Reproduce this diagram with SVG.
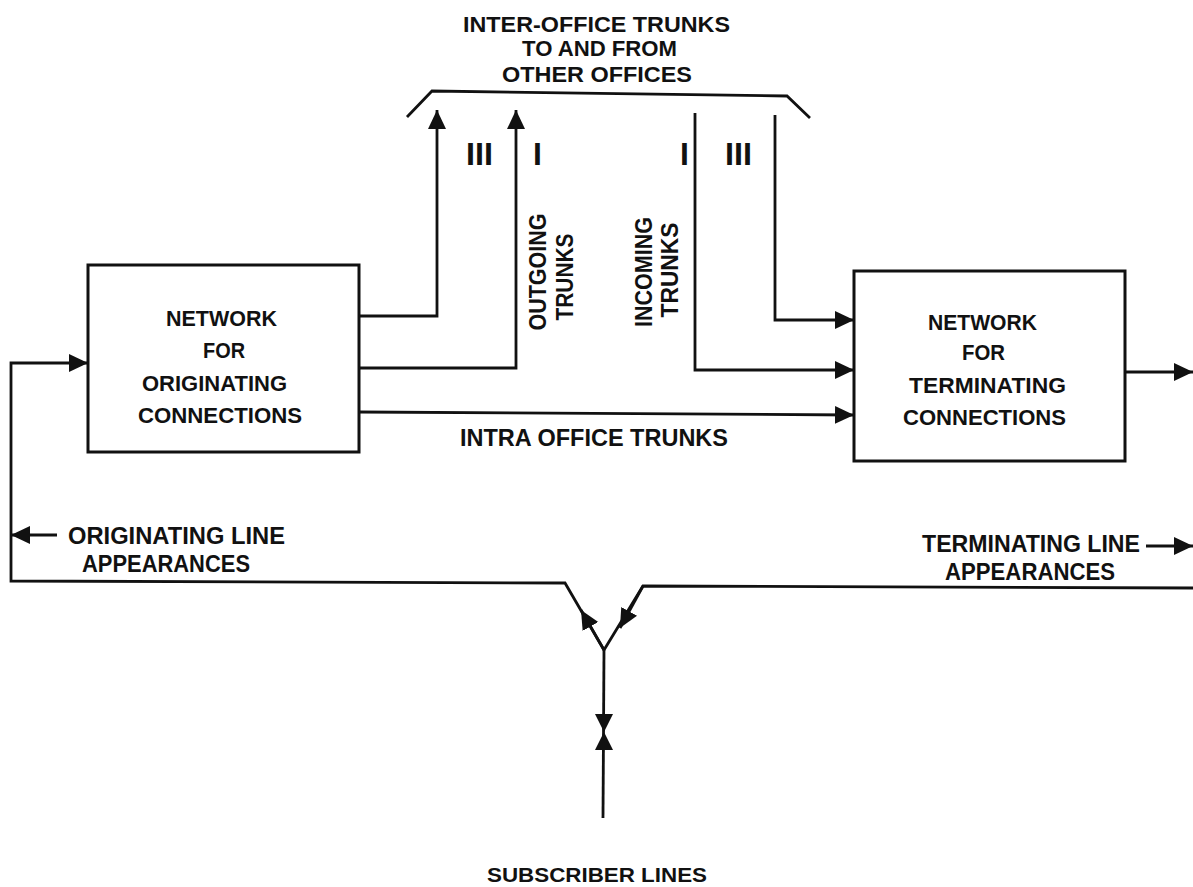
<svg xmlns="http://www.w3.org/2000/svg" width="1193" height="887" viewBox="0 0 1193 887">
<style>
.t{font-family:"Liberation Sans",Arial,sans-serif;font-weight:bold;font-size:23px;fill:#111}
.b{font-size:21.5px}
.s{font-size:21px}
.h{font-size:21.5px}
.tick{font-family:"Liberation Sans",Arial,sans-serif;font-weight:bold;font-size:32px;fill:#111}
.ln{fill:none;stroke:#111;stroke-width:2.8;stroke-linejoin:miter}
.box{fill:none;stroke:#111;stroke-width:3}
</style>
<defs>
<marker id="ah" markerUnits="userSpaceOnUse" markerWidth="20" markerHeight="20" refX="19" refY="10" orient="auto" viewBox="0 0 20 20">
<path d="M0,1 L19,10 L0,19 z" fill="#111"/>
</marker>
</defs>
<rect width="1193" height="887" fill="#fff"/>

<g id="title">
<text class="t h" x="463" y="32" textLength="267" lengthAdjust="spacingAndGlyphs">INTER-OFFICE TRUNKS</text>
<text class="t h" x="522" y="56" textLength="155" lengthAdjust="spacingAndGlyphs">TO AND FROM</text>
<text class="t h" x="502" y="82" textLength="190" lengthAdjust="spacingAndGlyphs">OTHER OFFICES</text>
</g>

<g id="orig">
<rect class="box" x="88" y="265" width="271" height="187"/>
<text class="t b" x="166" y="326" textLength="111" lengthAdjust="spacingAndGlyphs">NETWORK</text>
<text class="t b" x="203" y="358" textLength="42" lengthAdjust="spacingAndGlyphs">FOR</text>
<text class="t b" x="142" y="391" textLength="145" lengthAdjust="spacingAndGlyphs">ORIGINATING</text>
<text class="t b" x="138" y="423" textLength="164" lengthAdjust="spacingAndGlyphs">CONNECTIONS</text>
</g>

<g id="term">
<rect class="box" x="854" y="271" width="271" height="190"/>
<text class="t b" x="928" y="330" textLength="109" lengthAdjust="spacingAndGlyphs">NETWORK</text>
<text class="t b" x="962" y="360" textLength="43" lengthAdjust="spacingAndGlyphs">FOR</text>
<text class="t b" x="909" y="393" textLength="157" lengthAdjust="spacingAndGlyphs">TERMINATING</text>
<text class="t b" x="903" y="425" textLength="163" lengthAdjust="spacingAndGlyphs">CONNECTIONS</text>
</g>

<g id="labels">
<text class="t" transform="translate(546,272) rotate(-90)" text-anchor="middle" textLength="117" lengthAdjust="spacingAndGlyphs">OUTGOING</text>
<text class="t" transform="translate(573,277) rotate(-90)" text-anchor="middle" textLength="87" lengthAdjust="spacingAndGlyphs">TRUNKS</text>
<text class="t" transform="translate(652,272) rotate(-90)" text-anchor="middle" textLength="110" lengthAdjust="spacingAndGlyphs">INCOMING</text>
<text class="t" transform="translate(678,270) rotate(-90)" text-anchor="middle" textLength="95" lengthAdjust="spacingAndGlyphs">TRUNKS</text>
<text class="t" x="460" y="446" textLength="268" lengthAdjust="spacingAndGlyphs">INTRA OFFICE TRUNKS</text>
<text class="t" x="68" y="544" textLength="217" lengthAdjust="spacingAndGlyphs">ORIGINATING LINE</text>
<text class="t" x="82" y="572" textLength="168" lengthAdjust="spacingAndGlyphs">APPEARANCES</text>
<text class="t" x="922" y="552" textLength="218" lengthAdjust="spacingAndGlyphs">TERMINATING LINE</text>
<text class="t" x="945" y="580" textLength="170" lengthAdjust="spacingAndGlyphs">APPEARANCES</text>
<text class="t s" x="487" y="882" textLength="220" lengthAdjust="spacingAndGlyphs">SUBSCRIBER LINES</text>
<text class="tick" x="466" y="165" textLength="27" lengthAdjust="spacingAndGlyphs">III</text>
<text class="tick" x="533" y="165">I</text>
<text class="tick" x="680" y="165">I</text>
<text class="tick" x="725" y="165" textLength="27" lengthAdjust="spacingAndGlyphs">III</text>
</g>

<g id="connectors">
<polyline class="ln" points="407,117 432,91 787,96 810,118"/>
<polyline class="ln" points="359,316 437,316 437,110" marker-end="url(#ah)"/>
<polyline class="ln" points="359,368 516,368 516,110" marker-end="url(#ah)"/>
<polyline class="ln" points="359,412 854,415" marker-end="url(#ah)"/>
<polyline class="ln" points="775,115 775,320 854,320" marker-end="url(#ah)"/>
<polyline class="ln" points="695,113 695,370 854,370" marker-end="url(#ah)"/>
<polyline class="ln" points="1125,372 1193,372" marker-end="url(#ah)"/>
<polyline class="ln" points="604,650 565,583 11,581 11,363 88,363" marker-end="url(#ah)"/>
<polyline class="ln" points="57,535 11,535" marker-end="url(#ah)"/>
<polyline class="ln" points="1146,546 1193,546" marker-end="url(#ah)"/>
<polyline class="ln" points="1193,588 643,586 604,650"/>
<polyline class="ln" points="604,650 581,610" marker-end="url(#ah)"/>
<polyline class="ln" points="643,586 620,628" marker-end="url(#ah)"/>
<polyline class="ln" points="604,650 603,818"/>
<path d="M595,714 L613,714 L604,732 z M595,750 L613,750 L604,732 z" fill="#111"/>
</g>
</svg>
